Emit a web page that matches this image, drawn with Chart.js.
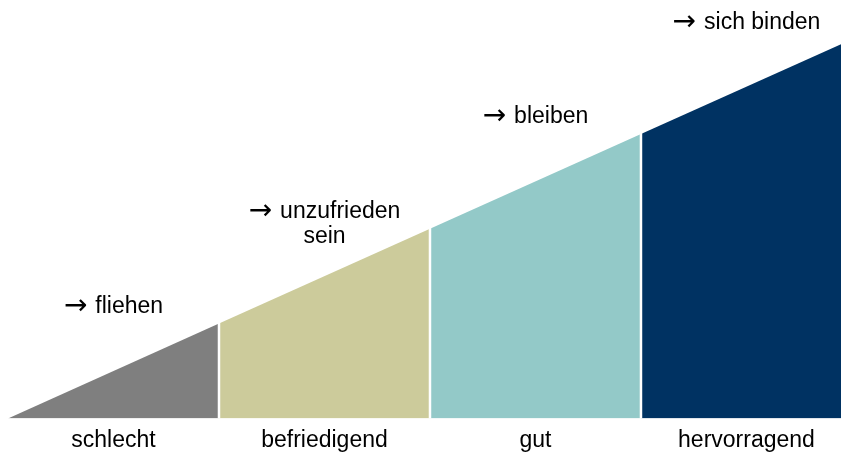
<!DOCTYPE html>
<html>
<head>
<meta charset="utf-8">
<script src="https://cdn.jsdelivr.net/npm/chart.js@4"></script>
<style>
    html, body { margin: 0; padding: 0; background: #fff; }
    #wrap { width: 841px; height: 453px; position: relative; }
</style>
</head>
<body>
<div id="wrap"><canvas id="wedge"></canvas></div>
<script>
const categories = ['schlecht', 'befriedigend', 'gut', 'hervorragend'];
const edgePositions = [0, 1, 2, 3, 4];
const edgeValues = [0, 1, 2, 3, 4];
const annotations = [
    ['fliehen'],
    ['unzufrieden', 'sein'],
    ['bleiben'],
    ['sich binden']
];
const colors = ['#7f7f7f', '#cccb9b', '#93c9c8', '#003262'];

const FONT = '"Liberation Sans", Arial, sans-serif';
const ARROW = '\u2192';

const datasets = categories.map((c, i) => ({
    label: c,
    data: [
        { x: edgePositions[i], y: edgeValues[i] },
        { x: edgePositions[i + 1], y: edgeValues[i + 1] }
    ],
    backgroundColor: colors[i],
    borderWidth: 0,
    pointRadius: 0,
    tension: 0,
    fill: 'origin'
}));

const wedgePlugin = {
    id: 'wedgeExtras',
    afterDatasetsDraw(chart) {
        const ctx = chart.ctx;
        const xs = chart.scales.x;
        const ys = chart.scales.y;
        const area = chart.chartArea;
        ctx.save();
        // white gaps between the segments
        ctx.strokeStyle = '#ffffff';
        ctx.lineWidth = 2.5;
        for (let i = 1; i < edgePositions.length - 1; i++) {
            const px = xs.getPixelForValue(edgePositions[i]);
            ctx.beginPath();
            ctx.moveTo(px, area.bottom);
            ctx.lineTo(px, area.top);
            ctx.stroke();
        }
        // captions above each segment, first line starts with an arrow
        ctx.fillStyle = '#000';
        ctx.textBaseline = 'alphabetic';
        annotations.forEach((lines, i) => {
            const mid = (edgePositions[i] + edgePositions[i + 1]) / 2;
            const midVal = (edgeValues[i] + edgeValues[i + 1]) / 2;
            const cx = xs.getPixelForValue(mid);
            const py = ys.getPixelForValue(midVal) - 58;
            lines.forEach((t, k) => {
                const y = py + k * 25;
                ctx.font = '23px ' + FONT;
                const tw = ctx.measureText(t).width;
                if (k === 0) {
                    ctx.font = '28px "DejaVu Sans"';
                    const aw = ctx.measureText(ARROW).width;
                    const gap = 8;
                    const x0 = cx - (aw + gap + tw) / 2;
                    ctx.textAlign = 'left';
                    ctx.fillText(ARROW, x0, y + 1);
                    ctx.font = '23px ' + FONT;
                    ctx.fillText(t, x0 + aw + gap, y);
                } else {
                    ctx.textAlign = 'center';
                    ctx.fillText(t, cx, y);
                }
            });
        });
        ctx.restore();
    }
};

new Chart(document.getElementById('wedge'), {
    type: 'line',
    data: { datasets: datasets },
    options: {
        responsive: true,
        maintainAspectRatio: false,
        animation: false,
        layout: { padding: { left: 8, right: 0, top: 0, bottom: -9 } },
        plugins: { legend: { display: false }, tooltip: { enabled: false } },
        scales: {
            x: {
                type: 'linear',
                min: 0,
                max: 3.948,
                grid: { display: false, drawTicks: false },
                border: { display: false },
                afterBuildTicks: axis => {
                    axis.ticks = categories.map((c, i) => ({ value: (edgePositions[i] + edgePositions[i + 1]) / 2 }));
                },
                ticks: {
                    autoSkip: false,
                    maxRotation: 0,
                    padding: 8,
                    color: '#000',
                    font: { family: FONT, size: 23 },
                    callback: (v, i) => categories[i]
                }
            },
            y: {
                display: false,
                min: 0,
                max: 4.414
            }
        }
    },
    plugins: [wedgePlugin]
});
</script>
</body>
</html>
